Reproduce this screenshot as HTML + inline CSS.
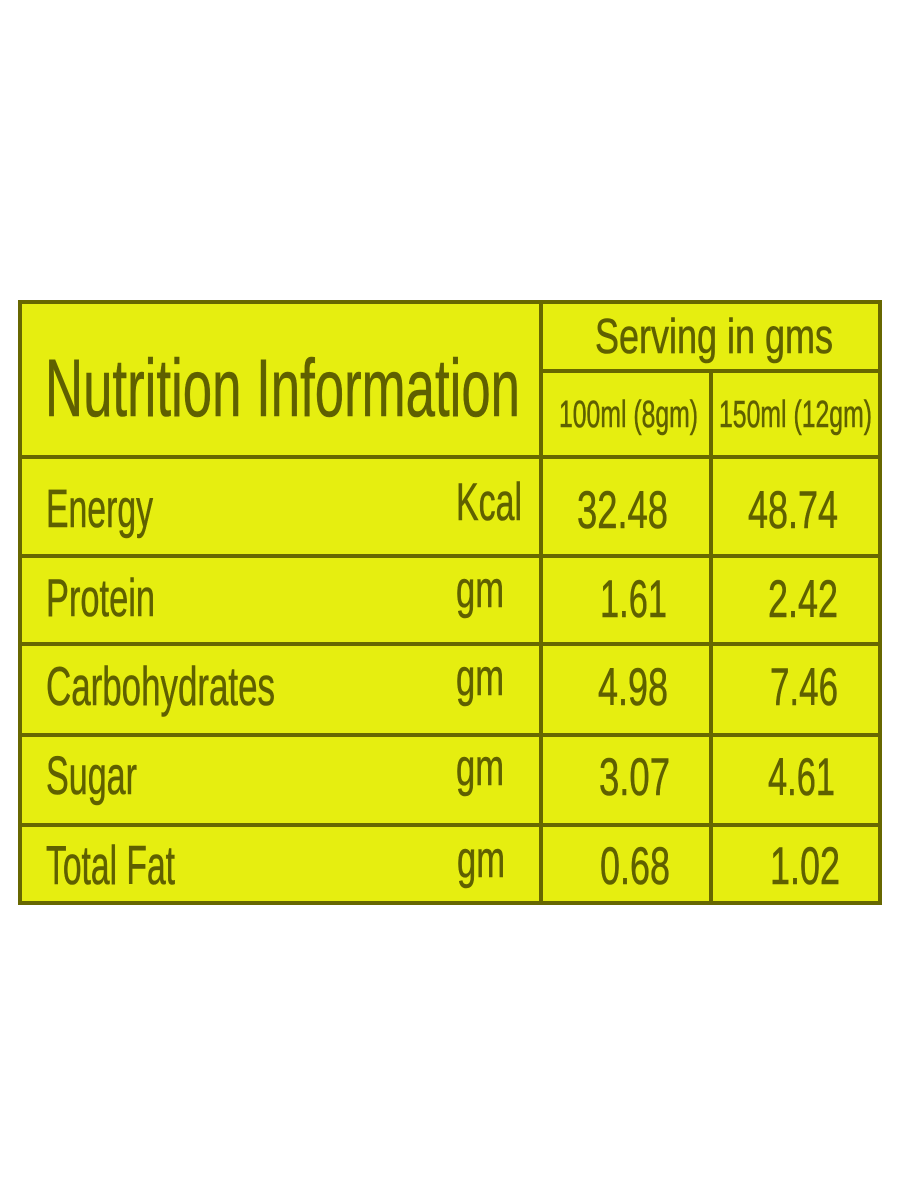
<!DOCTYPE html>
<html>
<head>
<meta charset="utf-8">
<style>
  html, body { margin: 0; padding: 0; background: #ffffff; }
  body { width: 900px; height: 1200px; overflow: hidden; }
  svg { display: block; }
  text { font-family: "Liberation Sans", "DejaVu Sans", sans-serif; fill: #5f6000; }
</style>
</head>
<body>
<svg width="900" height="1200" viewBox="0 0 900 1200" xmlns="http://www.w3.org/2000/svg">
  <rect x="0" y="0" width="900" height="1200" fill="#ffffff"/>
  <!-- table background -->
  <rect x="19" y="302" width="862" height="602" fill="#e6ee10"/>

  <!-- grid lines -->
  <g stroke="#676700" stroke-width="4" fill="none">
    <rect x="20" y="302" width="860" height="601"/>
    <line x1="541" y1="302" x2="541" y2="903"/>
    <line x1="711" y1="371" x2="711" y2="903"/>
    <line x1="541" y1="371" x2="880" y2="371"/>
    <line x1="20" y1="457" x2="880" y2="457"/>
    <line x1="20" y1="556" x2="880" y2="556"/>
    <line x1="20" y1="644" x2="880" y2="644"/>
    <line x1="20" y1="735" x2="880" y2="735"/>
    <line x1="20" y1="825" x2="880" y2="825"/>
  </g>

  <g stroke="#5f6000" stroke-width="0.6">
    <!-- header -->
    <text x="45" y="416" font-size="82" textLength="475" lengthAdjust="spacingAndGlyphs">Nutrition Information</text>
    <text x="595" y="353" font-size="49" textLength="238" lengthAdjust="spacingAndGlyphs">Serving in gms</text>
    <text x="559" y="427" font-size="38" textLength="139" lengthAdjust="spacingAndGlyphs">100ml (8gm)</text>
    <text x="719" y="427" font-size="38" textLength="153" lengthAdjust="spacingAndGlyphs">150ml (12gm)</text>

    <!-- row labels -->
    <text x="46" y="527" font-size="54" textLength="107" lengthAdjust="spacingAndGlyphs">Energy</text>
    <text x="46" y="616" font-size="53" textLength="109" lengthAdjust="spacingAndGlyphs">Protein</text>
    <text x="46" y="705" font-size="55" textLength="229" lengthAdjust="spacingAndGlyphs">Carbohydrates</text>
    <text x="46" y="794" font-size="54" textLength="91" lengthAdjust="spacingAndGlyphs">Sugar</text>
    <text x="46" y="884" font-size="55" textLength="129" lengthAdjust="spacingAndGlyphs">Total Fat</text>

    <!-- units -->
    <text x="456" y="520" font-size="53" textLength="66" lengthAdjust="spacingAndGlyphs">Kcal</text>
    <text x="456" y="607" font-size="52" textLength="48" lengthAdjust="spacingAndGlyphs">gm</text>
    <text x="456" y="695" font-size="52" textLength="48" lengthAdjust="spacingAndGlyphs">gm</text>
    <text x="456" y="785" font-size="52" textLength="48" lengthAdjust="spacingAndGlyphs">gm</text>
    <text x="457" y="877" font-size="52" textLength="48" lengthAdjust="spacingAndGlyphs">gm</text>

    <!-- values column 1 -->
    <text x="577" y="528" font-size="53" textLength="91" lengthAdjust="spacingAndGlyphs">32.48</text>
    <text x="600" y="617" font-size="53" textLength="67" lengthAdjust="spacingAndGlyphs">1.61</text>
    <text x="598" y="705" font-size="53" textLength="70" lengthAdjust="spacingAndGlyphs">4.98</text>
    <text x="599" y="795" font-size="53" textLength="71" lengthAdjust="spacingAndGlyphs">3.07</text>
    <text x="600" y="884" font-size="53" textLength="70" lengthAdjust="spacingAndGlyphs">0.68</text>

    <!-- values column 2 -->
    <text x="748" y="528" font-size="53" textLength="90" lengthAdjust="spacingAndGlyphs">48.74</text>
    <text x="768" y="617" font-size="53" textLength="70" lengthAdjust="spacingAndGlyphs">2.42</text>
    <text x="770" y="705" font-size="53" textLength="68" lengthAdjust="spacingAndGlyphs">7.46</text>
    <text x="768" y="795" font-size="53" textLength="67" lengthAdjust="spacingAndGlyphs">4.61</text>
    <text x="770" y="884" font-size="53" textLength="70" lengthAdjust="spacingAndGlyphs">1.02</text>
  </g>
</svg>
</body>
</html>
